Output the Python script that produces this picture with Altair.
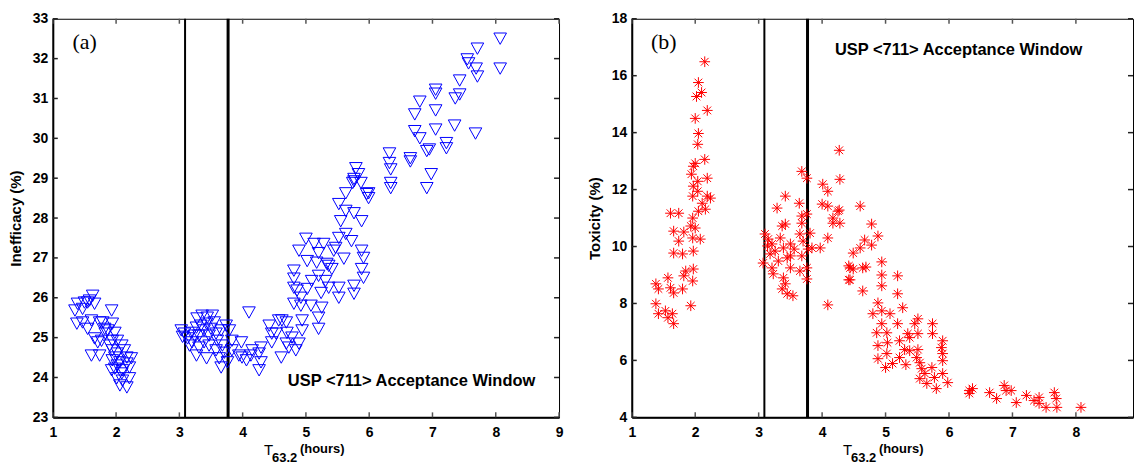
import altair as alt
import pandas as pd

# ---------------- panel (a): Inefficacy (%) vs T63.2 ----------------
a_x = [1.63, 1.55, 1.66, 1.39, 1.50, 1.35, 1.47, 1.93, 1.38, 1.47, 1.61, 1.79, 1.94, 1.55, 1.82,
       1.98, 1.66, 1.77, 1.94, 2.09, 1.61, 1.74, 1.94, 2.02, 2.17, 2.24, 1.94, 2.06, 2.17, 1.98,
       2.10, 2.21, 2.01, 2.10, 2.21, 2.06, 2.17, 1.58, 1.74, 1.87, 1.90, 2.02, 2.13, 1.98, 2.09,
       1.93, 2.02, 1.83, 1.71,
       3.08, 3.13, 3.19, 3.27, 3.31, 3.39, 3.44, 3.52, 3.36, 3.43, 3.50, 3.58, 3.20, 3.31, 3.43,
       3.27, 3.60, 3.68, 3.74, 3.79, 3.66, 3.71, 3.76, 3.66, 3.63, 3.83, 3.83, 3.98, 4.10, 3.99,
       4.06, 4.15, 4.26, 4.29, 4.26, 4.13, 3.94, 3.16, 3.58, 3.24, 3.34, 3.47, 3.39, 3.55, 3.28,
       3.47, 3.03, 3.05,
       4.42, 4.53, 4.57, 4.69, 4.70, 4.78, 4.61, 4.46, 4.84, 4.29, 4.46, 4.89, 4.69, 4.73,
       5.00, 5.13, 5.28, 4.89, 5.02, 5.20, 5.33, 5.47, 5.52, 5.63, 5.72, 5.55, 5.63, 5.76, 5.88,
       5.52, 5.88, 5.91, 5.88, 5.91, 5.76, 5.76, 5.52, 5.52, 5.36, 5.41, 5.20, 5.31, 5.36, 5.24,
       5.09, 5.02, 4.92, 4.81, 4.81, 4.81, 4.86, 4.81, 4.92, 5.08, 5.25, 5.20, 5.20, 4.94, 4.94,
       4.62, 5.44, 5.60, 5.17,
       8.07, 7.71, 7.55, 7.57, 7.69, 7.71, 8.07, 7.43, 7.05, 7.05, 7.43, 7.36, 6.80, 6.72, 7.05,
       7.35, 7.68, 7.05, 6.72, 6.80, 7.22, 7.22, 6.95, 6.91, 6.65, 6.65, 6.32, 6.32, 6.34, 6.98,
       6.91, 6.34, 6.34, 5.79, 5.83, 5.76, 5.74, 5.63, 5.99, 5.99, 5.76, 5.87, 5.96]
a_y = [26.05, 25.88, 25.85, 25.85, 25.88, 25.68, 25.72, 25.68, 25.35, 25.38, 25.43, 25.38, 25.35, 25.22, 25.22,
       25.12, 24.98, 24.92, 24.92, 24.80, 24.55, 24.55, 24.68, 24.60, 24.50, 24.48, 24.43, 24.38, 24.35, 24.22,
       24.18, 24.25, 23.98, 23.92, 23.98, 23.80, 23.75, 25.93, 25.38, 25.18, 24.80, 24.92, 24.68, 24.50, 24.10,
       24.18, 24.30, 25.10, 24.88,
       25.10, 24.98, 25.12, 25.25, 25.05, 25.18, 25.50, 25.55, 25.55, 25.35, 25.22, 25.10, 24.88, 24.75, 24.48,
       24.55, 24.92, 24.80, 25.30, 25.18, 25.18, 24.62, 24.38, 24.25, 24.48, 24.92, 24.68, 24.88, 25.63, 24.50,
       24.43, 24.68, 24.60, 24.38, 24.18, 24.55, 24.55, 24.80, 24.68, 25.05, 25.30, 25.05, 24.88, 25.38, 25.48,
       24.80, 25.18, 25.02,
       25.30, 25.10, 25.43, 25.38, 25.12, 25.00, 24.50, 24.88, 24.68, 24.75, 25.10, 24.85, 24.85, 24.75,
       27.48, 27.35, 27.35, 27.18, 26.92, 27.12, 26.85, 27.25, 27.50, 27.60, 27.42, 27.92, 28.18, 28.12, 27.92,
       28.35, 27.18, 27.00, 26.72, 26.50, 26.30, 26.10, 26.25, 26.00, 26.80, 26.72, 26.55, 26.42, 26.25, 26.12,
       26.42, 26.22, 26.00, 26.68, 26.48, 26.25, 26.18, 25.85, 25.80, 25.80, 25.75, 25.50, 25.22, 25.43, 25.18,
       25.43, 27.18, 26.98, 26.88,
       32.50, 32.25, 31.98, 31.88, 31.75, 31.55, 31.75, 31.45, 31.22, 31.12, 31.10, 31.00, 30.92, 30.60, 30.70,
       30.32, 30.12, 30.22, 30.18, 30.00, 29.88, 29.75, 29.72, 29.68, 29.50, 29.42, 29.62, 29.38, 29.22, 29.10,
       28.75, 28.88, 28.75, 29.25, 29.10, 28.98, 28.88, 28.62, 28.62, 28.50, 28.92, 28.88, 28.60]

# ---------------- panel (b): Toxicity (%) vs T63.2 ----------------
b_x = [2.15, 2.05, 2.10, 2.02, 2.19, 2.00, 2.05, 2.04, 2.15, 2.00, 1.97, 2.19, 1.94, 2.04, 1.97,
       2.19, 2.24, 1.96, 2.04, 2.11, 2.05, 2.16, 1.96, 1.93, 2.00, 2.08, 1.96, 1.74, 1.61, 1.66,
       1.82, 1.74, 1.66, 1.80, 1.97, 1.85, 1.82, 1.97, 1.96, 1.57, 1.38, 1.42, 1.61, 1.66, 1.80,
       1.38, 1.42, 1.53, 1.64, 1.57, 1.66, 1.93,
       3.10, 3.14, 3.07, 3.18, 3.21, 3.23, 3.21, 3.29, 3.42, 3.37, 3.42, 3.34, 3.39, 3.45, 3.50,
       3.39, 3.42, 3.37, 3.45, 3.54, 3.50, 3.64, 3.68, 3.68, 3.65, 3.70, 3.68, 3.65, 3.68, 3.76,
       3.76, 3.81, 3.78, 3.84, 3.76, 3.76, 3.15, 3.26, 3.31, 3.50, 3.56,
       4.27, 4.28, 4.01, 4.09, 4.00, 4.09, 4.25, 4.17, 4.17, 4.28, 4.09, 3.97, 4.09, 4.49, 4.44,
       4.42, 4.60, 4.27, 4.78, 4.88, 4.67, 4.78, 4.60, 4.94, 4.42, 4.49, 4.64, 4.69, 4.94, 5.19,
       4.44, 4.94, 4.64, 5.19, 4.88, 5.27, 4.94, 4.80, 5.07, 5.51, 4.94, 5.19, 5.46, 5.74, 4.86,
       5.02, 5.35, 5.51, 5.74, 4.88, 5.03, 5.22, 5.38, 5.90, 5.88, 5.90, 5.30, 5.38, 5.51, 5.49,
       5.90, 5.02, 4.88, 5.22, 5.00, 5.11, 5.32, 5.54, 5.57, 5.73, 5.62, 5.54, 5.77, 5.90, 5.65,
       5.98, 5.80, 6.32, 6.32, 6.64, 6.75, 6.90, 6.98, 7.06, 7.22, 7.34, 7.42, 7.53, 7.69, 7.70,
       8.08, 6.87, 7.42, 7.66, 6.37]
b_y = [16.49, 15.76, 15.41, 15.27, 14.78, 14.50, 13.97, 13.59, 13.06, 12.92, 12.82, 12.40, 12.54, 12.29, 12.12,
       11.77, 11.70, 11.77, 11.94, 11.52, 11.24, 11.31, 11.00, 10.72, 10.65, 10.26, 10.30, 11.17, 11.17, 10.54,
       10.51, 10.19, 9.77, 9.74, 9.84, 9.14, 8.97, 9.21, 8.79, 8.90, 8.69, 8.51, 8.55, 8.37, 8.51,
       7.99, 7.64, 7.74, 7.64, 7.50, 7.29, 7.92,
       10.44, 10.02, 9.42, 9.74, 9.25, 9.04, 10.09, 11.35, 11.77, 10.72, 10.79, 10.30, 9.95, 9.60, 9.25,
       8.90, 8.69, 8.51, 8.34, 8.27, 10.09, 11.52, 11.07, 10.82, 10.44, 10.19, 9.67, 9.14, 12.64, 12.40,
       11.14, 10.47, 9.91, 9.95, 8.86, 9.25, 10.26, 9.84, 9.49, 9.67, 9.91,
       13.38, 12.36, 12.19, 11.94, 11.49, 11.42, 11.24, 11.00, 10.82, 10.82, 10.30, 9.95, 7.95, 9.77, 9.25,
       8.83, 11.42, 11.28, 10.79, 10.37, 10.23, 10.05, 9.95, 9.46, 9.32, 9.21, 9.25, 9.28, 9.00, 8.97,
       8.83, 8.62, 8.44, 8.34, 8.02, 7.85, 7.74, 7.64, 7.64, 7.46, 7.29, 7.29, 7.29, 7.29, 6.97,
       6.97, 6.94, 6.94, 6.94, 6.52, 6.62, 6.69, 6.80, 6.69, 6.45, 6.24, 6.38, 6.34, 6.38, 6.10,
       5.99, 6.24, 6.06, 6.10, 5.75, 5.89, 5.85, 5.92, 5.71, 5.75, 5.54, 5.36, 5.40, 5.54, 5.19,
       5.22, 5.01, 4.94, 4.84, 4.87, 4.66, 4.94, 4.94, 4.52, 4.77, 4.59, 4.49, 4.35, 4.66, 4.35,
       4.35, 5.12, 4.70, 4.87, 5.01]

# acceptance window boundaries (hours) and their line widths
window_x = [3.09, 3.77]
window_w = [2.0, 3.0]

a_xticks = [1, 2, 3, 4, 5, 6, 7, 8, 9]
a_yticks = [23, 24, 25, 26, 27, 28, 29, 30, 31, 32, 33]
b_xticks = [1, 2, 3, 4, 5, 6, 7, 8]
b_yticks = [4, 6, 8, 10, 12, 14, 16, 18]

LF = "'Liberation Sans Narrow', 'Liberation Sans', Arial, sans-serif"
SF = "'Liberation Sans', Arial, sans-serif"
TRI = "M-1,-0.9L1,-0.9L0,0.9Z"
AST = "M-1,0L1,0M0,-1L0,1M-0.72,-0.72L0.72,0.72M-0.72,0.72L0.72,-0.72"

H = 400


def panel(xs, ys, xdom, xticks, ydom, yticks, W, shape, color, size, ytitle, letter,
          usp_xy, tx):
    sx = alt.Scale(domain=xdom, nice=False, zero=False)
    sy = alt.Scale(domain=ydom, nice=False, zero=False)
    ax = alt.Axis(values=xticks, title=None, grid=False, ticks=False, domain=True,
                  domainColor="black", domainWidth=2, labelFont=LF, labelFontSize=14,
                  labelFontWeight="bold", labelColor="black", labelPadding=8,
                  labelFlush=False, labelOverlap=False, format="d")
    ay = alt.Axis(values=yticks, title=ytitle, grid=False, ticks=False, domain=True,
                  domainColor="black", domainWidth=2, labelFont=LF, labelFontSize=14,
                  labelFontWeight="bold", labelColor="black", labelPadding=5,
                  labelFlush=False, labelOverlap=False, format="d",
                  titleFont=SF, titleFontSize=15, titleFontWeight="bold", titleColor="black",
                  titlePadding=9, minExtent=20, maxExtent=20)

    df = pd.DataFrame({"x": xs, "y": ys})
    pts = alt.Chart(df).mark_point(shape=shape, filled=False, size=size, stroke=color,
                                   strokeWidth=1, opacity=1).encode(
        x=alt.X("x:Q", scale=sx, axis=ax), y=alt.Y("y:Q", scale=sy, axis=ay))

    wdf = pd.DataFrame({"x": window_x, "w": window_w})
    win = alt.Chart(wdf).mark_rule(color="black").encode(
        x=alt.X("x:Q", scale=sx, axis=ax),
        strokeWidth=alt.StrokeWidth("w:Q", scale=None, legend=None))

    xt = pd.DataFrame({"x": xticks})
    yt = pd.DataFrame({"y": yticks})
    tick_b = alt.Chart(xt).mark_rule(color="#555555", strokeWidth=1.5).encode(
        x=alt.X("x:Q", scale=sx, axis=ax), y=alt.value(H), y2=alt.value(H - 5))
    tick_t = alt.Chart(xt).mark_rule(color="#555555", strokeWidth=1.5).encode(
        x=alt.X("x:Q", scale=sx, axis=ax), y=alt.value(0), y2=alt.value(5))
    tick_l = alt.Chart(yt).mark_rule(color="#222222", strokeWidth=1.5).encode(
        y=alt.Y("y:Q", scale=sy, axis=ay), x=alt.value(0), x2=alt.value(5))
    tick_r = alt.Chart(yt).mark_rule(color="#222222", strokeWidth=1.5).encode(
        y=alt.Y("y:Q", scale=sy, axis=ay), x=alt.value(W), x2=alt.value(W - 5))

    lab = alt.Chart(pd.DataFrame({"t": [letter]})).mark_text(
        font="'Liberation Serif', 'Times New Roman', serif", fontSize=22, color="black",
        align="center", baseline="middle").encode(
        x=alt.value(32), y=alt.value(23), text="t:N")
    usp = alt.Chart(pd.DataFrame({"t": ["USP <711> Acceptance Window"]})).mark_text(
        font=SF, fontSize=16.5, fontWeight="bold", color="black", align="center",
        baseline="middle").encode(x=alt.value(usp_xy[0]), y=alt.value(usp_xy[1]), text="t:N")

    t_T = alt.Chart(pd.DataFrame({"t": ["T"]})).mark_text(
        font=SF, fontSize=15, color="black", align="left", baseline="middle").encode(
        x=alt.value(tx), y=alt.value(433), text="t:N")
    t_sub = alt.Chart(pd.DataFrame({"t": ["63.2"]})).mark_text(
        font=LF, fontSize=13, fontWeight="bold", color="black", align="left",
        baseline="middle").encode(x=alt.value(tx + 8), y=alt.value(441), text="t:N")
    t_h = alt.Chart(pd.DataFrame({"t": ["(hours)"]})).mark_text(
        font=LF, fontSize=13, fontWeight="bold", color="black", align="left",
        baseline="middle").encode(x=alt.value(tx + 36), y=alt.value(432), text="t:N")

    return alt.layer(win, tick_b, tick_t, tick_l, tick_r, pts, lab, usp, t_T, t_sub, t_h).properties(
        width=W, height=H)


left = panel(a_x, a_y, [1, 9], a_xticks, [23, 33], a_yticks, 508, TRI, "#0000ff", 160,
             "Inefficacy (%)", "(a)", (360, 364), 212)
right = panel(b_x, b_y, [1, 8.9], b_xticks, [4, 18], b_yticks, 503, AST, "#ff0000", 115,
              "Toxicity (%)", "(b)", (328, 31), 212)

chart = alt.hconcat(left, right, spacing=23).properties(
    padding={"left": 8, "top": 10, "right": 0, "bottom": 0},
    background="white",
).configure_view(stroke="black", strokeWidth=1).resolve_scale(x="independent", y="independent")

chart.save("out.html", embed_options={"renderer": "svg", "actions": False})
